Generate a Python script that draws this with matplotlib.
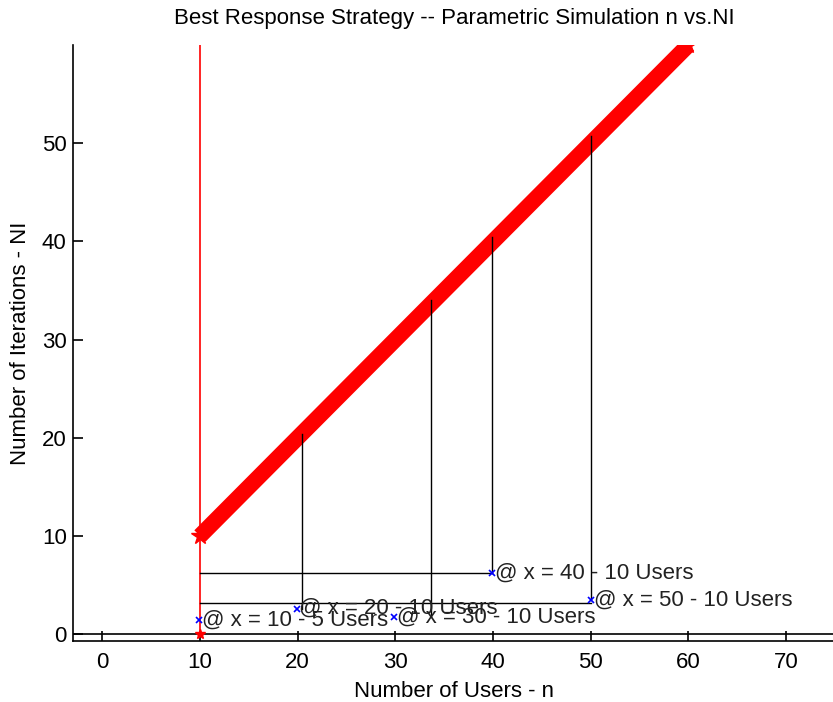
import matplotlib
matplotlib.use("Agg")
import matplotlib.pyplot as plt

plt.rcParams['font.family'] = ['Liberation Sans', 'DejaVu Sans']

# Main series (n vs NI)
line_n = [10, 60]
line_ni = [10, 60]

# Red marker at baseline and red vertical reference
ref_x = [10, 10]
ref_y = [0, 60]

# Data-tip markers and labels
tip_x = [9.9, 19.9, 29.9, 39.9, 50.05]
tip_y = [1.4, 2.6, 1.75, 6.2, 3.45]
tip_labels = ["@ x = 10 - 5 Users", "@ x = 20 - 10 Users", "@ x = 30 - 10 Users",
              "@ x = 40 - 10 Users", "@ x = 50 - 10 Users"]

# Black guide lines
vline_x = [20.4, 33.6, 39.9, 50.05]
vline_y0 = [2.6, 1.75, 6.2, 3.45]
vline_y1 = [20.4, 34.0, 40.4, 50.7]
hline_y = [6.2, 3.15]
hline_x0 = [10, 10]
hline_x1 = [39.9, 50.05]

xticks = [0, 10, 20, 30, 40, 50, 60, 70]
yticks = [0, 10, 20, 30, 40, 50]

FS = 16

fig = plt.figure(figsize=(8.33, 7.02), dpi=100)
ax = fig.add_axes([73/833, 61/702, (835-73)/833, (641-45)/702])

ax.axhline(0, color='black', lw=1.2, zorder=2)
ax.plot(ref_x, ref_y, color='red', lw=1.2, zorder=3)
ax.plot([ref_x[0]], [ref_y[0]], marker='*', color='red', ms=7, zorder=4)

ax.plot(line_n, line_ni, color='red', lw=11.5, solid_capstyle='butt', zorder=3)
ax.plot(line_n, line_ni, ls='none', marker='*', color='red', ms=13, zorder=3)

for x, y0, y1 in zip(vline_x, vline_y0, vline_y1):
    ax.plot([x, x], [y0, y1], color='black', lw=1.0, zorder=4)
for y, x0, x1 in zip(hline_y, hline_x0, hline_x1):
    ax.plot([x0, x1], [y, y], color='black', lw=1.0, zorder=4)

ax.plot(tip_x, tip_y, ls='none', marker='x', color='blue', ms=5, mew=1.2, zorder=5)
for x, y, s in zip(tip_x, tip_y, tip_labels):
    ax.annotate(s, (x, y), xytext=(2, 0), textcoords='offset points',
                ha='left', va='center', fontsize=FS, color='#222222', zorder=6)

ax.set_xlim(-3, 75)
ax.set_ylim(-0.7, 60)
ax.set_xticks(xticks)
ax.set_yticks(yticks)
ax.tick_params(direction='in', length=7, width=1.2, labelsize=FS)
ax.tick_params(axis='x', pad=8)
ax.tick_params(axis='y', pad=4.5)
for sp in ('left', 'bottom'):
    ax.spines[sp].set_linewidth(1.2)
ax.spines['top'].set_visible(False)
ax.spines['right'].set_visible(False)
ax.set_xlabel("Number of Users - n", fontsize=FS, labelpad=6)
ax.set_ylabel("Number of Iterations - NI", fontsize=FS, labelpad=8)
ax.set_title("Best Response Strategy -- Parametric Simulation n vs.NI", fontsize=FS, pad=15)

fig.savefig("out.png", dpi=100)
